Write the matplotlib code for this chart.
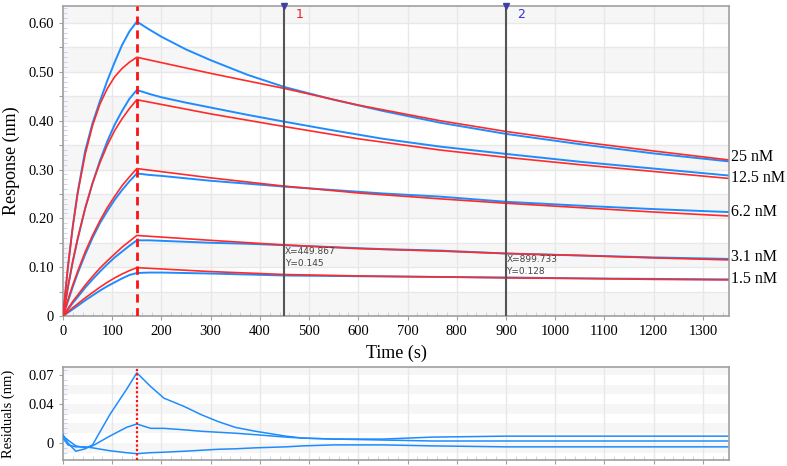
import matplotlib
matplotlib.use("Agg")
import matplotlib.pyplot as plt
import numpy as np

# association phase (0-150 s)
t_on = [0, 10, 20, 30, 45, 60, 75, 90, 105, 120, 135, 150]
blue_on = {
    "25 nM":   [0, 0.100, 0.185, 0.255, 0.338, 0.395, 0.440, 0.482, 0.520, 0.555, 0.583, 0.603],
    "12.5 nM": [0, 0.058, 0.112, 0.158, 0.220, 0.272, 0.318, 0.358, 0.392, 0.420, 0.445, 0.463],
    "6.2 nM":  [0, 0.030, 0.060, 0.088, 0.126, 0.160, 0.190, 0.215, 0.238, 0.258, 0.276, 0.292],
    "3.1 nM":  [0, 0.013, 0.027, 0.039, 0.058, 0.075, 0.091, 0.106, 0.120, 0.132, 0.144, 0.155],
    "1.5 nM":  [0, 0.007, 0.014, 0.021, 0.032, 0.042, 0.052, 0.061, 0.069, 0.077, 0.084, 0.088],
}
red_on = {
    "25 nM":   [0, 0.101, 0.184, 0.252, 0.331, 0.390, 0.434, 0.466, 0.490, 0.507, 0.520, 0.530],
    "12.5 nM": [0, 0.060, 0.113, 0.160, 0.221, 0.272, 0.314, 0.350, 0.380, 0.404, 0.425, 0.443],
    "6.2 nM":  [0, 0.033, 0.064, 0.092, 0.131, 0.165, 0.195, 0.222, 0.245, 0.267, 0.285, 0.302],
    "3.1 nM":  [0, 0.015, 0.030, 0.043, 0.063, 0.081, 0.098, 0.113, 0.127, 0.141, 0.153, 0.165],
    "1.5 nM":  [0, 0.0085, 0.017, 0.025, 0.037, 0.048, 0.059, 0.069, 0.078, 0.086, 0.093, 0.099],
}

# dissociation phase
t_off_blue = [150, 175, 200, 250, 300, 375, 450, 550, 650, 766, 900, 1050, 1200, 1350]
blue_off = {
    "25 nM":   [0.603, 0.587, 0.572, 0.546, 0.524, 0.494, 0.469, 0.443, 0.420, 0.396, 0.373, 0.352, 0.333, 0.317],
    "12.5 nM": [0.463, 0.455, 0.448, 0.437, 0.427, 0.412, 0.398, 0.380, 0.363, 0.347, 0.332, 0.316, 0.302, 0.288],
    "6.2 nM":  [0.292, 0.289, 0.287, 0.282, 0.277, 0.271, 0.265, 0.258, 0.251, 0.2445, 0.234, 0.226, 0.219, 0.213],
    "3.1 nM":  [0.155, 0.155, 0.154, 0.152, 0.150, 0.148, 0.145, 0.141, 0.137, 0.134, 0.128, 0.124, 0.120, 0.117],
    "1.5 nM":  [0.088, 0.089, 0.089, 0.088, 0.087, 0.085, 0.083, 0.082, 0.081, 0.080, 0.079, 0.077, 0.076, 0.075],
}
t_off_red = [150, 300, 450, 600, 766, 900, 1050, 1200, 1350]
red_off = {
    "25 nM":   [0.530, 0.497, 0.466, 0.432, 0.400, 0.378, 0.357, 0.338, 0.320],
    "12.5 nM": [0.443, 0.414, 0.388, 0.363, 0.340, 0.325, 0.310, 0.296, 0.282],
    "6.2 nM":  [0.302, 0.283, 0.266, 0.252, 0.240, 0.231, 0.222, 0.213, 0.205],
    "3.1 nM":  [0.165, 0.155, 0.1455, 0.138, 0.133, 0.128, 0.124, 0.119, 0.115],
    "1.5 nM":  [0.099, 0.091, 0.085, 0.082, 0.080, 0.078, 0.077, 0.075, 0.074],
}
label_y = {"25 nM": 0.326, "12.5 nM": 0.283, "6.2 nM": 0.213, "3.1 nM": 0.121, "1.5 nM": 0.076}

# residuals
t_res = [0, 10, 26, 45, 60, 95, 129, 150, 178, 205, 246, 281, 315, 350, 391, 453, 487,
         550, 650, 750, 900, 1050, 1200, 1350]
res_a = [0.0085, 0.0, -0.0085, -0.006, -0.002, 0.029, 0.055, 0.072, 0.058, 0.046, 0.0375, 0.029,
         0.022, 0.016, 0.012, 0.007, 0.005, 0.004, 0.003, 0.002, 0.002, 0.002, 0.002, 0.002]
res_b = [0.007, 0.003, -0.003, -0.005, -0.003, 0.007, 0.016, 0.0195, 0.015, 0.015, 0.0135, 0.012,
         0.011, 0.010, 0.0085, 0.006, 0.005, 0.004, 0.004, 0.006, 0.007, 0.007, 0.007, 0.007]
res_c = [0.005, -0.002, -0.004, -0.004, -0.005, -0.008, -0.010, -0.011, -0.010, -0.0095, -0.0085,
         -0.0075, -0.0065, -0.006, -0.005, -0.004, -0.003, -0.002, -0.002, -0.003, -0.004, -0.004,
         -0.004, -0.004]

cursors = [(449.867, 0.145, "1", "#e82020"), (899.733, 0.128, "2", "#3030e0")]

BLUE = "#1e8cff"
RED = "#ff2a2a"
SERIF = "Liberation Serif"
XMAX = 1353

fig = plt.figure(figsize=(7.87, 4.66), dpi=100)
ax = fig.add_axes([63 / 787, 150 / 466, 666 / 787, 310 / 466])
axr = fig.add_axes([63 / 787, 6 / 466, 666 / 787, 93 / 466])


def style_axes(a):
    for s in a.spines.values():
        s.set_color("#a0a0a0")
        s.set_linewidth(1.2)
    a.tick_params(which="major", direction="out", length=3, color="#a0a0a0",
                  labelsize=10.5)
    a.tick_params(which="minor", direction="in", length=3, color="#c8c8ee")
    for lab in a.get_xticklabels() + a.get_yticklabels():
        lab.set_fontfamily(SERIF)
    a.set_axisbelow(True)


# main panel
ax.set_xlim(0, XMAX)
ax.set_ylim(0, 0.635)
for k in range(7):
    ax.axhspan(k * 0.1, k * 0.1 + 0.05, color="#f6f6f6", lw=0, zorder=0)
ax.set_xticks(np.arange(0, 1301, 100))
ax.set_xticks(np.arange(0, XMAX, 20), minor=True)
ax.set_yticks(np.arange(0, 0.61, 0.05))
ax.set_yticklabels(["0" if i == 0 else (f"{i*0.05:.2f}" if i % 2 == 0 else "") for i in range(13)])
ax.set_yticks(np.arange(0, 0.635, 0.01), minor=True)
ax.grid(True, which="major", color="#e8e8e8", lw=1)
style_axes(ax)

for name in blue_on:
    ax.plot(t_on + t_off_blue[1:], blue_on[name] + blue_off[name][1:], color=BLUE, lw=1.4, zorder=3)
for name in red_on:
    ax.plot(t_on + t_off_red[1:], red_on[name] + red_off[name][1:], color=RED, lw=1.2, zorder=4)
    ax.text(XMAX + 5, label_y[name], name, fontsize=11.5, family=SERIF, va="center",
            ha="left", clip_on=False)

ax.axvline(150, color="#ff1010", lw=2, ls=(0, (3, 2)), zorder=5)
for x, yv, num, col in cursors:
    ax.axvline(x, color="#555555", lw=1.5, zorder=5)
    ax.plot([x], [0.635], marker="v", color="#4040a0", ms=4, clip_on=False, zorder=6)
    ax.text(x + 22, 0.618, num, color=col, fontsize=9, family="DejaVu Sans", va="center")
ax.text(cursors[0][0] + 1, 0.132, f"X={cursors[0][0]:.3f}", fontsize=6.5, color="#444444",
        family="DejaVu Sans", va="center", zorder=6)
ax.text(cursors[0][0] + 1, 0.108, f"Y={cursors[0][1]:.3f}", fontsize=6.5, color="#444444",
        family="DejaVu Sans", va="center", zorder=6)
ax.text(cursors[1][0] + 1, 0.116, f"X={cursors[1][0]:.3f}", fontsize=6.5, color="#444444",
        family="DejaVu Sans", va="center", zorder=6)
ax.text(cursors[1][0] + 1, 0.091, f"Y={cursors[1][1]:.3f}", fontsize=6.5, color="#444444",
        family="DejaVu Sans", va="center", zorder=6)

ax.set_xlabel("Time (s)", fontsize=13, family=SERIF, labelpad=5)
ax.set_ylabel("Response (nm)", fontsize=13, family=SERIF, labelpad=6)

# residual panel
axr.set_xlim(0, XMAX)
axr.set_ylim(-0.0175, 0.078)
for k in range(-1, 8, 2):
    axr.axhspan(k * 0.01, k * 0.01 + 0.01, color="#f6f6f6", lw=0, zorder=0)
axr.set_xticks(np.arange(0, 1301, 100))
axr.set_xticklabels([])
axr.set_xticks(np.arange(0, XMAX, 20), minor=True)
axr.set_yticks([0, 0.04, 0.07])
axr.set_yticklabels(["0", "0.04", "0.07"])
axr.set_yticks(np.arange(-0.01, 0.078, 0.005), minor=True)
axr.grid(True, which="major", axis="x", color="#e8e8e8", lw=1)
style_axes(axr)
for r in (res_a, res_b, res_c):
    axr.plot(t_res, r, color=BLUE, lw=1.1, zorder=3)
axr.axvline(150, color="#ff1010", lw=1.6, ls=(0, (1, 1)), zorder=5)
axr.set_ylabel("Residuals (nm)", fontsize=10.5, family=SERIF, labelpad=10)

fig.savefig("out.png", dpi=100)
